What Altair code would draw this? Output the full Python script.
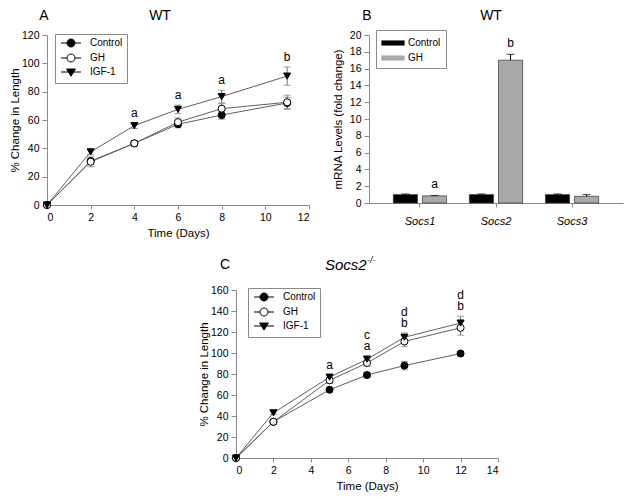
import altair as alt
import pandas as pd

FONT = "Liberation Sans"
GROUPS = ["Control", "GH", "IGF-1"]

# ---------------- Panel A : WT growth ----------------
a_days = [0, 2, 4, 6, 8, 11]
a_control = [0, 31.0, 43.5, 57.0, 63.5, 72.0]
a_control_err = [0, 2.0, 1.5, 2.5, 3.0, 4.0]
a_gh = [0, 30.5, 43.5, 58.5, 68.0, 72.5]
a_gh_err = [0, 3.5, 2.0, 3.0, 3.5, 5.0]
a_igf = [0, 37.5, 56.0, 67.5, 76.5, 91.0]
a_igf_err = [0, 2.0, 2.0, 3.0, 4.5, 6.5]
a_letter_days = [4, 6, 8, 11]
a_letters_low = ["a", "a", "a", "b"]
a_letters_high = ["", "", "", ""]

# ---------------- Panel B : WT mRNA ----------------
b_genes = ["Socs1", "Socs2", "Socs3"]
b_groups = ["Control", "GH"]
b_control = [1.0, 1.0, 1.0]
b_control_err = [0.08, 0.08, 0.08]
b_gh = [0.85, 17.0, 0.8]
b_gh_err = [0.05, 0.7, 0.2]
b_gh_letters = ["a", "b", ""]

# ---------------- Panel C : Socs2-/- growth ----------------
c_days = [0, 2, 5, 7, 9, 12]
c_control = [0, 34.5, 65.0, 79.0, 88.0, 99.5]
c_control_err = [0, 1.5, 2.0, 2.5, 4.0, 2.0]
c_gh = [0, 34.5, 74.0, 90.5, 111.0, 124.0]
c_gh_err = [0, 2.0, 3.0, 3.0, 5.0, 7.0]
c_igf = [0, 43.0, 77.0, 94.0, 115.0, 128.5]
c_igf_err = [0, 1.5, 2.5, 3.5, 4.0, 6.5]
c_letter_days = [5, 7, 9, 12]
c_letters_low = ["a", "a", "b", "b"]
c_letters_high = ["", "c", "d", "d"]

# legend symbols: line through marker
LEG_PATHS = [
    "M-2.5,0H2.5M1,0A1,1,0,1,1,-1,0A1,1,0,1,1,1,0Z",
    "M-2.5,0H-1M1,0H2.5M1,0A1,1,0,1,1,-1,0A1,1,0,1,1,1,0Z",
    "M-2.5,0H2.5M-1.1,-0.75L1.1,-0.75L0,1.05Z",
]
FILLS = ["black", "white", "black"]
AXIS_GRAY = "#8a8a8a"
PAD_LABEL = "datum.label + '\u00a0\u00a0\u00a0'"


def growth_df(days, series):
    rows = []
    for g, (vals, errs) in zip(GROUPS, series):
        for d, v, e in zip(days, vals, errs):
            rows.append(dict(Group=g, Day=d, Value=v, Err=e, Lo=v - e, Hi=v + e))
    return pd.DataFrame(rows)


def letters_df(days, ref_days, ref_vals, ref_errs, low, high):
    top = {d: v + e for d, v, e in zip(ref_days, ref_vals, ref_errs)}
    return pd.DataFrame(
        [dict(Day=d, Top=top[d], Low=l, High=h) for d, l, h in zip(days, low, high)]
    )


def text_label(txt, x, y, size=14, style="normal", align="center"):
    return alt.Chart(pd.DataFrame({"k": [0]})).mark_text(
        font=FONT, fontSize=size, fontStyle=style, align=align, baseline="middle",
        color="black"
    ).encode(x=alt.value(x), y=alt.value(y), text=alt.value(txt))


def growth_panel(df, lets, xmax, ymax, ystep, width, height, legend_x, legend_y, titles):
    xscale = alt.Scale(domain=[0, xmax], nice=False)
    yscale = alt.Scale(domain=[0, ymax], nice=False)
    xaxis = alt.Axis(values=list(range(0, xmax + 1, 2)), title="Time (Days)",
                     tickSize=4, labelPadding=3, titlePadding=5)
    yaxis = alt.Axis(values=list(range(0, ymax + 1, ystep)), title="% Change in Length",
                     tickSize=5, labelPadding=3, titlePadding=1)

    def X(f):
        return alt.X(f"{f}:Q", scale=xscale, axis=xaxis)

    def Y(f):
        return alt.Y(f"{f}:Q", scale=yscale, axis=yaxis)

    base = alt.Chart(df)
    lines = base.mark_line(color="#606060", strokeWidth=1).encode(
        x=X("Day"), y=Y("Value"), detail="Group:N")
    eb = base.transform_filter("datum.Err > 0")
    rules = eb.mark_rule(color="#777777", strokeWidth=1).encode(
        x=X("Day"), y=Y("Lo"), y2="Hi:Q")
    cap_hi = eb.mark_tick(orient="horizontal", size=7, thickness=1, color="#777777").encode(
        x=X("Day"), y=Y("Hi"))
    cap_lo = eb.mark_tick(orient="horizontal", size=7, thickness=1, color="#777777").encode(
        x=X("Day"), y=Y("Lo"))
    pts = base.mark_point(filled=True, size=50, stroke="black", strokeWidth=1, opacity=1).encode(
        x=X("Day"), y=Y("Value"),
        shape=alt.Shape("Group:N", scale=alt.Scale(domain=GROUPS, range=["circle", "circle", "triangle-down"]), legend=None),
        fill=alt.Fill("Group:N", scale=alt.Scale(domain=GROUPS, range=FILLS), legend=None),
    )
    lt = alt.Chart(lets)
    low = lt.mark_text(font=FONT, fontSize=12, baseline="bottom", dy=-3, color="black").encode(
        x=X("Day"), y=Y("Top"), text="Low:N")
    high = lt.mark_text(font=FONT, fontSize=12, baseline="bottom", dy=-14, color="black").encode(
        x=X("Day"), y=Y("Top"), text="High:N")
    leg = alt.Legend(title=None, orient="none", legendX=legend_x, legendY=legend_y,
                     symbolSize=64, symbolOffset=7, labelOffset=14, labelFont=FONT,
                     labelFontSize=10, labelColor="black", padding=4, rowPadding=3,
                     labelExpr=PAD_LABEL,
                     strokeColor="#8a8a8a", fillColor="white", symbolStrokeColor="black",
                     symbolStrokeWidth=1)
    legend_layer = base.transform_filter("false").mark_point(
        filled=True, stroke="black", strokeWidth=1, opacity=1).encode(
        shape=alt.Shape("Group:N", scale=alt.Scale(domain=GROUPS, range=LEG_PATHS), legend=leg),
        fill=alt.Fill("Group:N", scale=alt.Scale(domain=GROUPS, range=FILLS), legend=leg),
        stroke=alt.Stroke("Group:N", scale=alt.Scale(domain=GROUPS, range=["black", "black", "black"]), legend=leg),
    )
    layers = [lines, rules, cap_hi, cap_lo, pts, low, high, legend_layer] + titles
    return alt.layer(*layers).resolve_scale(
        shape="independent", fill="independent", stroke="independent").properties(
        width=width, height=height)


dfA = growth_df(a_days, [(a_control, a_control_err), (a_gh, a_gh_err), (a_igf, a_igf_err)])
letA = letters_df(a_letter_days, a_days, a_igf, a_igf_err, a_letters_low, a_letters_high)
panelA = growth_panel(dfA, letA, 12, 120, 20, 262, 170, 8, -1,
                      [text_label("A", -3, -19), text_label("WT", 113, -19)])

dfC = growth_df(c_days, [(c_control, c_control_err), (c_gh, c_gh_err), (c_igf, c_igf_err)])
letC = letters_df(c_letter_days, c_days, c_igf, c_igf_err, c_letters_low, c_letters_high)
panelC = growth_panel(dfC, letC, 14, 160, 20, 262, 168, 12, -2,
                      [text_label("C", -11, -25),
                       text_label("Socs2", 89, -25, size=15, style="italic", align="left"),
                       text_label("-/-", 131, -30, size=9, style="italic", align="left")])

# ---------------- Panel B build ----------------
rowsB = []
for gname, vals, errs, lets in [("Control", b_control, b_control_err, ["", "", ""]),
                                ("GH", b_gh, b_gh_err, b_gh_letters)]:
    for gene, v, e, l in zip(b_genes, vals, errs, lets):
        rowsB.append(dict(Gene=gene, Group=gname, Value=v, Err=e, Hi=v + e, Letter=l))
dfB = pd.DataFrame(rowsB)

bx = alt.X("Gene:N", sort=b_genes, scale=alt.Scale(paddingInner=0.3, paddingOuter=0.32),
           axis=alt.Axis(title=None, labelAngle=0, labelFontStyle="italic", labelFontSize=11,
                         tickSize=4, labelPadding=8))
bxo = alt.XOffset("Group:N", sort=b_groups, scale=alt.Scale(paddingInner=0.17))
byscale = alt.Scale(domain=[0, 20], nice=False)
byaxis = alt.Axis(values=list(range(0, 21, 2)), title="mRNA Levels (fold change)",
                  tickSize=5, labelPadding=3, titlePadding=6)

baseB = alt.Chart(dfB)
bars = baseB.mark_bar(stroke="#333333", strokeWidth=0.7).encode(
    x=bx, xOffset=bxo,
    y=alt.Y("Value:Q", scale=byscale, axis=byaxis),
    fill=alt.Fill("Group:N", scale=alt.Scale(domain=b_groups, range=["black", "#a9a9a9"]),
                  legend=alt.Legend(title=None, orient="none", legendX=7, legendY=-5,
                                    symbolType="M-1.45,-0.32H1.45V0.32H-1.45Z", symbolSize=256,
                                    symbolOffset=4, labelOffset=7, labelFont=FONT, labelFontSize=10,
                                    labelColor="black", padding=5, rowPadding=2,
                                    labelExpr=PAD_LABEL,
                                    strokeColor="#8a8a8a", fillColor="white",
                                    symbolStrokeWidth=0)),
)
berr = baseB.mark_rule(color="black", strokeWidth=1).encode(
    x=bx, xOffset=bxo, y=alt.Y("Value:Q", scale=byscale, axis=byaxis), y2="Hi:Q")
bcap = baseB.mark_tick(orient="horizontal", size=8, thickness=1, color="black").encode(
    x=bx, xOffset=bxo, y=alt.Y("Hi:Q", scale=byscale, axis=byaxis))
blet = baseB.mark_text(font=FONT, fontSize=12, baseline="bottom", dy=-4, color="black").encode(
    x=bx, xOffset=bxo, y=alt.Y("Hi:Q", scale=byscale, axis=byaxis), text="Letter:N")
panelB = alt.layer(bars, berr, bcap, blet, text_label("B", -2, -19),
                   text_label("WT", 122, -19)).properties(width=254, height=168)

spacer = alt.Chart(pd.DataFrame({"k": [0]})).mark_point(opacity=0).properties(width=150, height=20)

RES = dict(shape="independent", fill="independent", stroke="independent")
top = alt.hconcat(panelA, panelB, spacing=21).resolve_scale(**RES).resolve_legend(**RES)
bottom = alt.hconcat(spacer, panelC, spacing=0).resolve_scale(**RES).resolve_legend(**RES)

chart = alt.vconcat(top, bottom, spacing=15).resolve_scale(**RES).resolve_legend(**RES).properties(
    padding=0, background="white"
).configure_view(stroke="transparent").configure_axis(
    labelFont=FONT, titleFont=FONT, labelFontSize=10.5, titleFontSize=11.5,
    titleFontWeight="normal", labelColor="black", titleColor="black",
    domainColor=AXIS_GRAY, tickColor=AXIS_GRAY, grid=False
).configure_legend(strokeColor="#8a8a8a", fillColor="white")

chart.save("out.html", embed_options={"renderer": "svg", "actions": False})
